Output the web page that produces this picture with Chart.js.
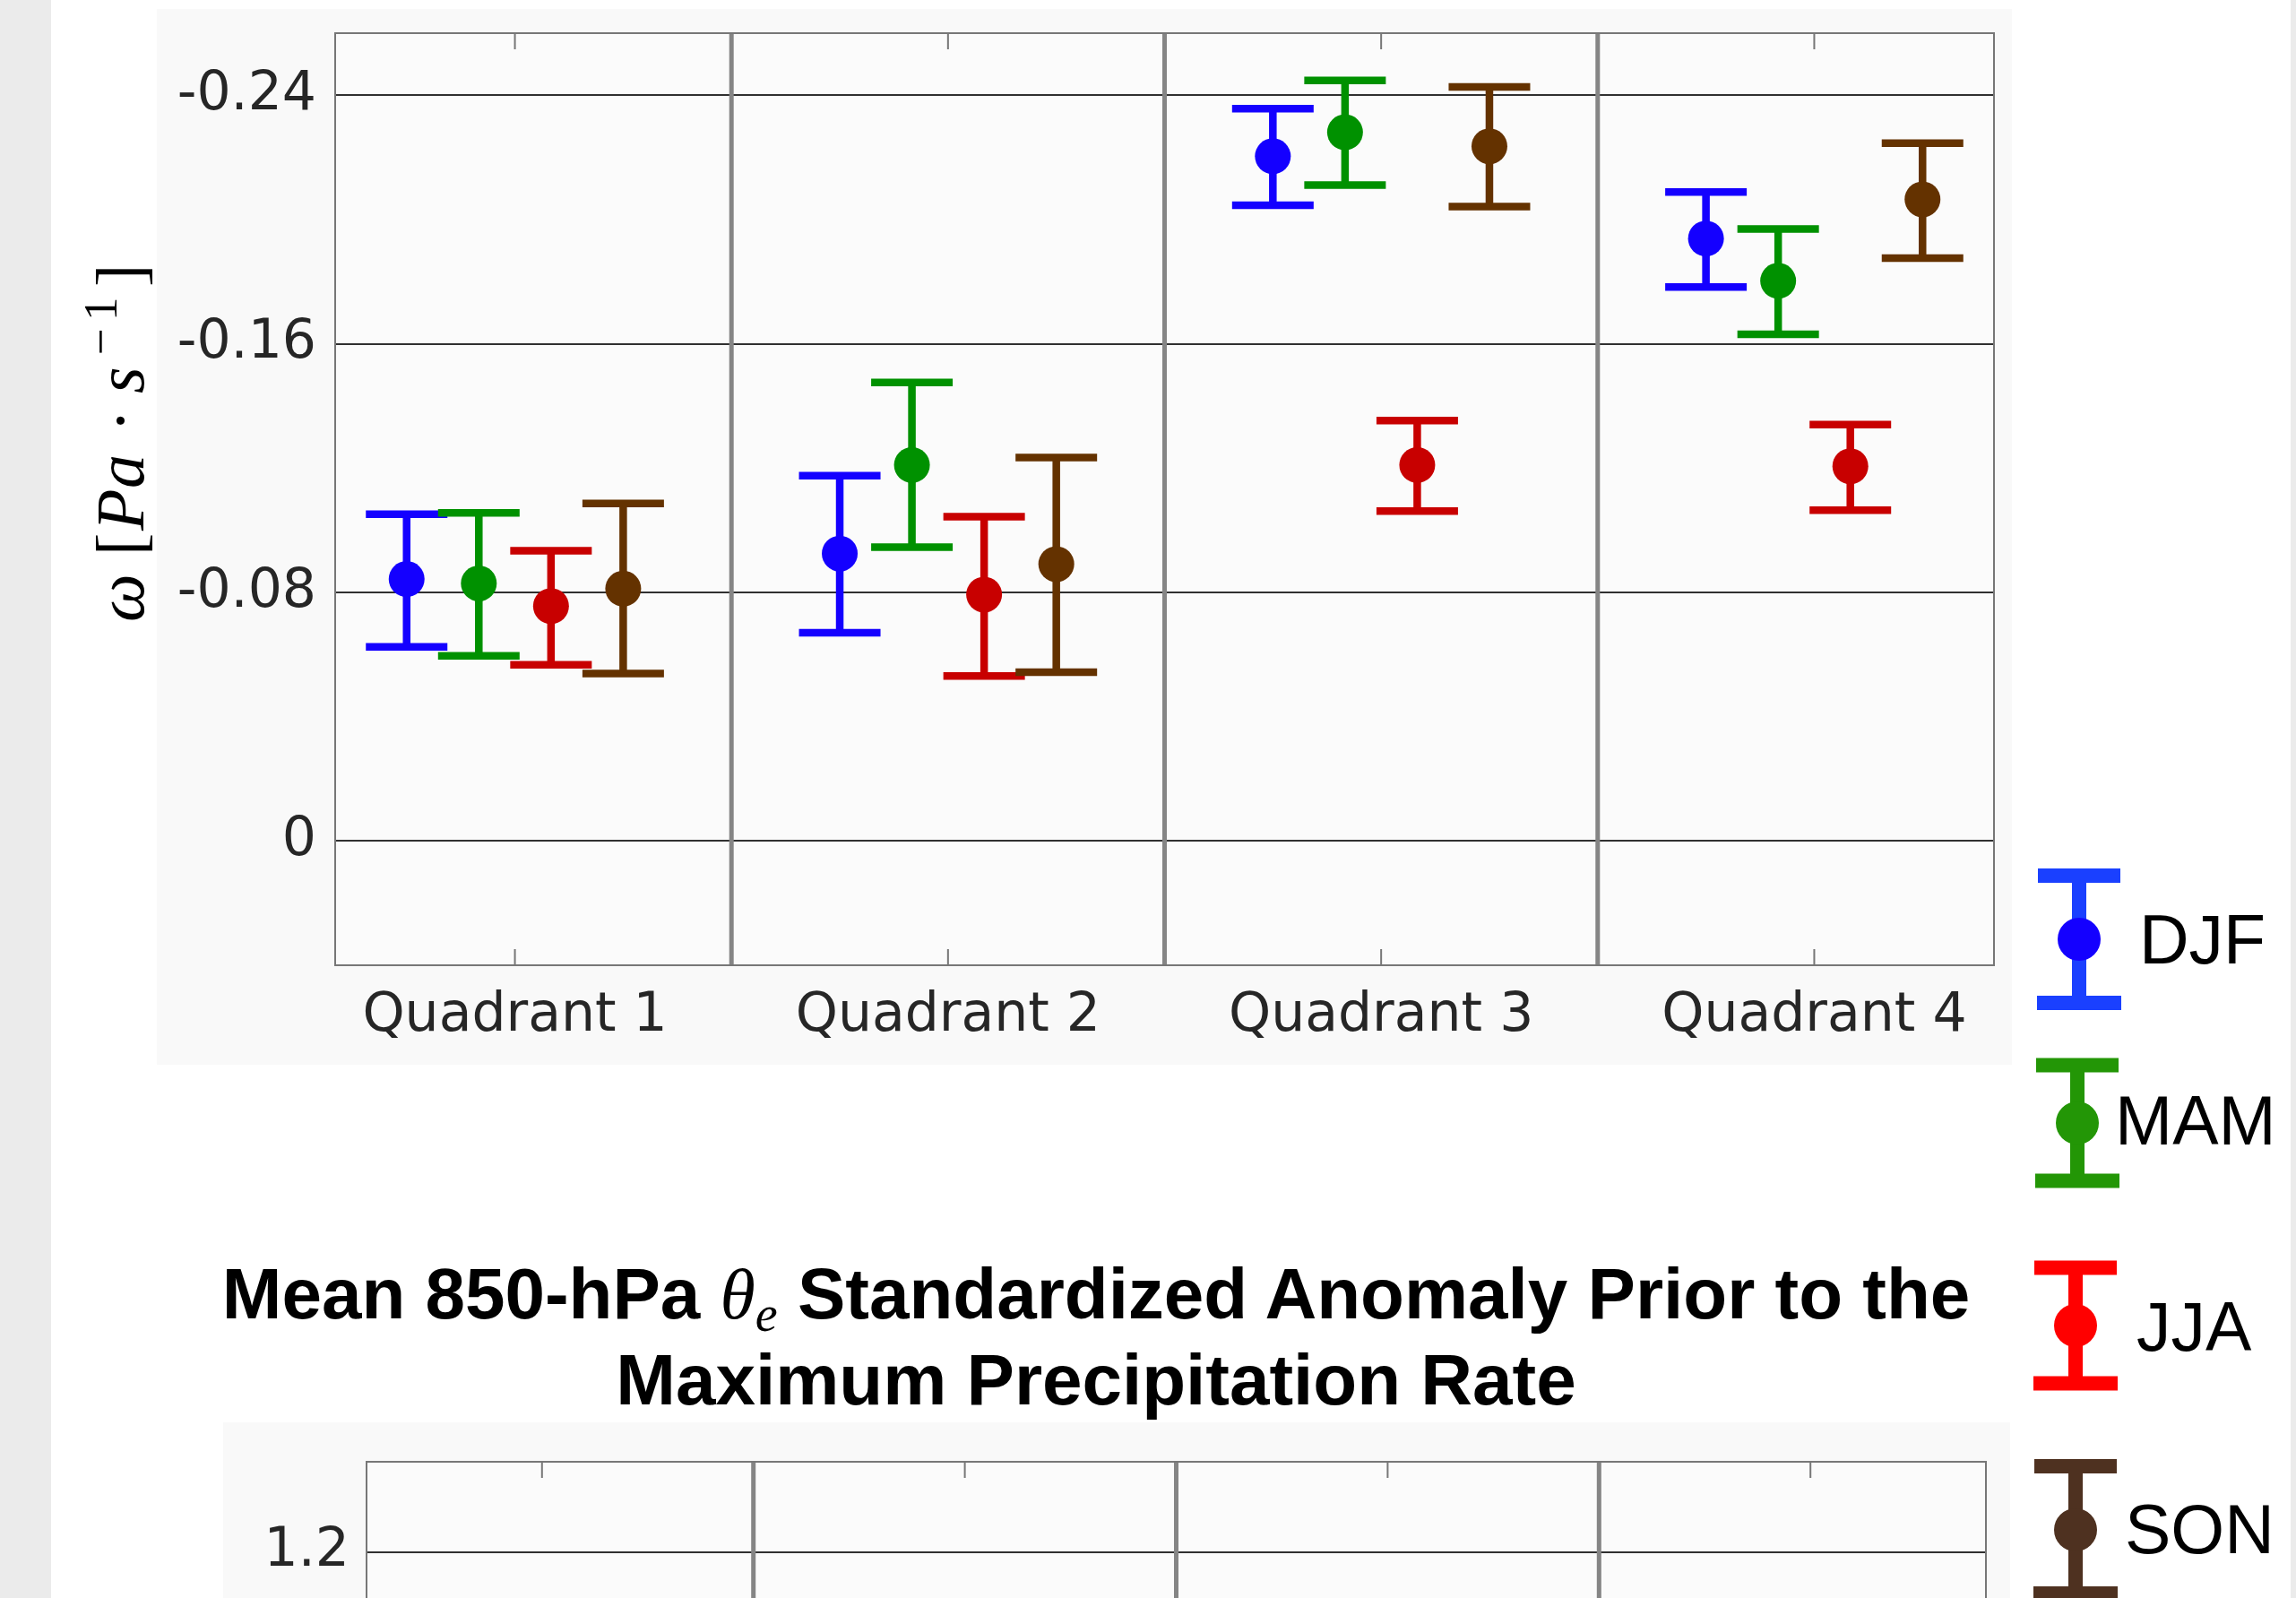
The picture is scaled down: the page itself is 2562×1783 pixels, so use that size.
<!DOCTYPE html>
<html><head><meta charset="utf-8">
<script src="https://cdn.jsdelivr.net/npm/chart.js@4/dist/chart.umd.min.js"></script>
<style>
html,body{margin:0;padding:0;width:2562px;height:1783px;overflow:hidden;background:#ffffff;}
.abs{position:absolute;}
.ylab span{position:absolute;white-space:nowrap;font-family:'Liberation Serif',serif;color:#000;}
.leg{position:absolute;font-family:'Liberation Sans',Arial,sans-serif;font-size:77px;line-height:77px;height:77px;color:#000;white-space:nowrap;}
.ttl{position:absolute;left:0;width:2446px;text-align:center;font-family:'Liberation Sans',Arial,sans-serif;font-weight:bold;font-size:80px;line-height:96px;height:96px;color:#000;white-space:nowrap;}
</style></head><body>
<div class="abs" style="left:0;top:0;width:57px;height:1783px;background:#ebebeb"></div>
<div class="abs" style="left:2556px;top:0;width:6px;height:1783px;background:#ebebeb"></div>
<div class="abs" style="left:175px;top:10px;width:2070px;height:1178px;background:#f9f9f9"></div>
<div class="abs" style="left:249px;top:1587px;width:1994px;height:196px;background:#f9f9f9"></div>

<canvas id="c1" class="abs" width="2200" height="1190" style="left:57px;top:0;width:2200px;height:1190px"></canvas>
<div class="abs" style="left:249px;top:1587px;width:1994px;height:196px;overflow:hidden">
  <canvas id="c2" width="1994" height="1130" style="position:absolute;left:0;top:0;width:1994px;height:1130px"></canvas>
</div>

<!-- y-axis title of the upper panel -->
<div class="abs ylab" style="left:160px;top:692px;width:0;height:0;transform:rotate(-90deg);transform-origin:0 0;">
  <span style="left:-2px;top:-63.6px;font-size:76px;line-height:76px;font-style:italic">ω</span>
  <span style="left:72px;top:-63.6px;font-size:76px;line-height:76px">[</span>
  <span style="left:100px;top:-63.6px;font-size:76px;line-height:76px;font-style:italic">P</span>
  <span style="left:147px;top:-63.6px;font-size:76px;line-height:76px;font-style:italic">a</span>
  <span style="left:210px;top:-63.6px;font-size:76px;line-height:76px">·</span>
  <span style="left:253px;top:-63.6px;font-size:76px;line-height:76px;font-style:italic">s</span>
  <span style="left:296px;top:-74.4px;font-size:53px;line-height:53px">−</span>
  <span style="left:334px;top:-74.4px;font-size:53px;line-height:53px">1</span>
  <span style="left:372px;top:-63.6px;font-size:76px;line-height:76px">]</span>
</div>

<!-- title of the lower panel -->
<div class="ttl" style="top:1396px">Mean 850-hPa <span style="font-family:'Liberation Serif',serif;font-style:italic;font-weight:normal;line-height:0">θ</span><span style="font-family:'Liberation Serif',serif;font-style:italic;font-weight:normal;font-size:56px;line-height:0;position:relative;top:14px">e</span> Standardized Anomaly Prior to the</div>
<div class="ttl" style="top:1492px">Maximum Precipitation Rate</div>

<canvas id="lg" class="abs" width="306" height="853" style="left:2250px;top:930px;width:306px;height:853px"></canvas>
<div class="leg" style="left:2387px;top:1010px">DJF</div>
<div class="leg" style="left:2360px;top:1212px">MAM</div>
<div class="leg" style="left:2384px;top:1442px">JJA</div>
<div class="leg" style="left:2371px;top:1668px">SON</div>

<script>
// ---------------- data ----------------
const categories = ['Quadrant 1', 'Quadrant 2', 'Quadrant 3', 'Quadrant 4'];
const seasons = ['DJF', 'MAM', 'JJA', 'SON'];

const djfMean  = [-0.0843, -0.0925, -0.2204, -0.1939];
const djfUpper = [-0.1052, -0.1176, -0.2357, -0.2089];
const djfLower = [-0.0625, -0.0670, -0.2046, -0.1783];

const mamMean  = [-0.0829, -0.1210, -0.2281, -0.1803];
const mamUpper = [-0.1056, -0.1476, -0.2448, -0.1970];
const mamLower = [-0.0596, -0.0946, -0.2111, -0.1631];

const jjaMean  = [-0.0756, -0.0793, -0.1210, -0.1206];
const jjaUpper = [-0.0934, -0.1044, -0.1353, -0.1340];
const jjaLower = [-0.0567, -0.0531, -0.1062, -0.1065];

const sonMean  = [-0.0812, -0.0891, -0.2236, -0.2065];
const sonUpper = [-0.1086, -0.1234, -0.2427, -0.2246];
const sonLower = [-0.0539, -0.0543, -0.2042, -0.1876];

const yTickValues = [-0.24, -0.16, -0.08, 0];
const yTickLabels = ['-0.24', '-0.16', '-0.08', '0'];
const xTickValues = [1, 2, 3, 4];
const dividerValues = [1.5, 2.5, 3.5];

const y2TickValues = [0, 0.4, 0.8, 1.2];
const y2TickLabels = ['0', '0.4', '0.8', '1.2'];

// ---------------- styles ----------------
const means  = [djfMean, mamMean, jjaMean, sonMean];
const uppers = [djfUpper, mamUpper, jjaUpper, sonUpper];
const lowers = [djfLower, mamLower, jjaLower, sonLower];
const seriesOffset = [-0.25, -1/12, 1/12, 0.25];
const dataColors = ['#1400ff', '#009100', '#c80000', '#643200'];
const legendBarColors = ['#1a40ff', '#239606', '#ff0000', '#4e3120'];
const legendMarkerColors = ['#1400ff', '#239606', '#ff0000', '#4e3120'];

Chart.defaults.font.family = "'DejaVu Sans', sans-serif";

function noPad(s) { s.paddingTop = 0; s.paddingBottom = 0; s.paddingLeft = 0; s.paddingRight = 0; }

const frame = {
  id: 'frame',
  beforeDraw(chart) {
    const a = chart.chartArea, ctx = chart.ctx;
    ctx.save(); ctx.fillStyle = '#fbfbfb';
    ctx.fillRect(a.left, a.top, a.right - a.left, a.bottom - a.top);
    ctx.restore();
  },
  beforeDatasetsDraw(chart) {
    const ctx = chart.ctx, xs = chart.scales.x, ys = chart.scales.y;
    ctx.save();
    ctx.lineWidth = 8.5; ctx.lineCap = 'butt';
    chart.data.datasets.forEach(ds => {
      ctx.strokeStyle = ds.borderColor;
      ds.data.forEach((p, i) => {
        const x = xs.getPixelForValue(p.x);
        const yU = ys.getPixelForValue(ds.errUpper[i]);
        const yL = ys.getPixelForValue(ds.errLower[i]);
        ctx.beginPath();
        ctx.moveTo(x, yU); ctx.lineTo(x, yL);
        ctx.moveTo(x - 45.5, yU); ctx.lineTo(x + 45.5, yU);
        ctx.moveTo(x - 45.5, yL); ctx.lineTo(x + 45.5, yL);
        ctx.stroke();
      });
    });
    ctx.restore();
  },
  afterDraw(chart) {
    const a = chart.chartArea, ctx = chart.ctx, xs = chart.scales.x;
    ctx.save();
    ctx.strokeStyle = '#858585'; ctx.lineWidth = 5;
    dividerValues.forEach(v => {
      const x = xs.getPixelForValue(v);
      ctx.beginPath(); ctx.moveTo(x, a.top); ctx.lineTo(x, a.bottom); ctx.stroke();
    });
    ctx.strokeStyle = '#777777'; ctx.lineWidth = 2;
    xTickValues.forEach(v => {
      const x = xs.getPixelForValue(v);
      ctx.beginPath();
      ctx.moveTo(x, a.top); ctx.lineTo(x, a.top + 18);
      ctx.moveTo(x, a.bottom); ctx.lineTo(x, a.bottom - 18);
      ctx.stroke();
    });
    ctx.strokeRect(a.left, a.top, a.right - a.left, a.bottom - a.top);
    ctx.restore();
  }
};

function xAxis(h) {
  return {
    type: 'linear', min: 0.585, max: 4.415, position: 'bottom',
    grid: { display: false, drawTicks: false }, border: { display: false },
    afterBuildTicks: s => { s.ticks = xTickValues.map(v => ({ value: v })); },
    afterFit: s => { s.height = h; noPad(s); },
    ticks: {
      callback: (v, i) => categories[i],
      font: { size: 60 }, color: '#262626', padding: 21, maxRotation: 0, minRotation: 0, autoSkip: false
    }
  };
}

new Chart(document.getElementById('c1'), {
  type: 'scatter',
  data: {
    datasets: seasons.map((s, si) => ({
      label: s,
      data: categories.map((c, i) => ({ x: i + 1 + seriesOffset[si], y: means[si][i] })),
      errUpper: uppers[si], errLower: lowers[si],
      backgroundColor: dataColors[si], borderColor: dataColors[si],
      pointRadius: 20, pointHoverRadius: 20, pointBorderWidth: 0, borderWidth: 0
    }))
  },
  options: {
    responsive: false, animation: false, devicePixelRatio: 1, events: [],
    layout: { padding: { left: 0, top: 37, right: 32, bottom: 0 } },
    plugins: { legend: { display: false }, tooltip: { enabled: false } },
    scales: {
      x: xAxis(113),
      y: {
        type: 'linear', reverse: true, min: -0.26, max: 0.04, z: 1,
        grid: { color: 'rgba(25,25,25,0.9)', lineWidth: 2, drawTicks: false }, border: { display: false },
        afterBuildTicks: s => { s.ticks = yTickValues.map(v => ({ value: v })); },
        afterFit: s => { s.width = 317; noPad(s); },
        ticks: { callback: (v, i) => yTickLabels[i], font: { size: 60 }, color: '#262626', padding: 21 }
      }
    }
  },
  plugins: [frame]
});

new Chart(document.getElementById('c2'), {
  type: 'scatter',
  data: { datasets: [] },
  options: {
    responsive: false, animation: false, devicePixelRatio: 1, events: [],
    layout: { padding: { left: 0, top: 44, right: 27, bottom: 0 } },
    plugins: { legend: { display: false }, tooltip: { enabled: false } },
    scales: {
      x: xAxis(47),
      y: {
        type: 'linear', min: -0.2, max: 1.35, z: 1,
        grid: { color: 'rgba(25,25,25,0.9)', lineWidth: 2, drawTicks: false }, border: { display: false },
        afterBuildTicks: s => { s.ticks = y2TickValues.map(v => ({ value: v })); },
        afterFit: s => { s.width = 160; noPad(s); },
        ticks: { callback: (v, i) => y2TickLabels[i], font: { size: 60 }, color: '#262626', padding: 19 }
      }
    }
  },
  plugins: [frame]
});

// ---------------- legend symbols ----------------
(function () {
  const ctx = document.getElementById('lg').getContext('2d');
  const ox = 2250, oy = 930;
  const cx = [2320, 2318, 2316, 2316];
  const cy = [1048, 1253, 1479, 1707];
  const half = [71, 64.5, 64.5, 71];
  seasons.forEach((s, i) => {
    const x = cx[i] - ox, y = cy[i] - oy;
    ctx.strokeStyle = legendBarColors[i];
    ctx.lineWidth = 16; ctx.lineCap = 'butt';
    ctx.beginPath();
    ctx.moveTo(x, y - half[i]); ctx.lineTo(x, y + half[i]);
    ctx.moveTo(x - 46, y - half[i]); ctx.lineTo(x + 46, y - half[i]);
    ctx.moveTo(x - 47, y + half[i]); ctx.lineTo(x + 47, y + half[i]);
    ctx.stroke();
    ctx.fillStyle = legendMarkerColors[i];
    ctx.beginPath(); ctx.arc(x, y, 24, 0, Math.PI * 2); ctx.fill();
  });
})();
</script>
</body></html>
